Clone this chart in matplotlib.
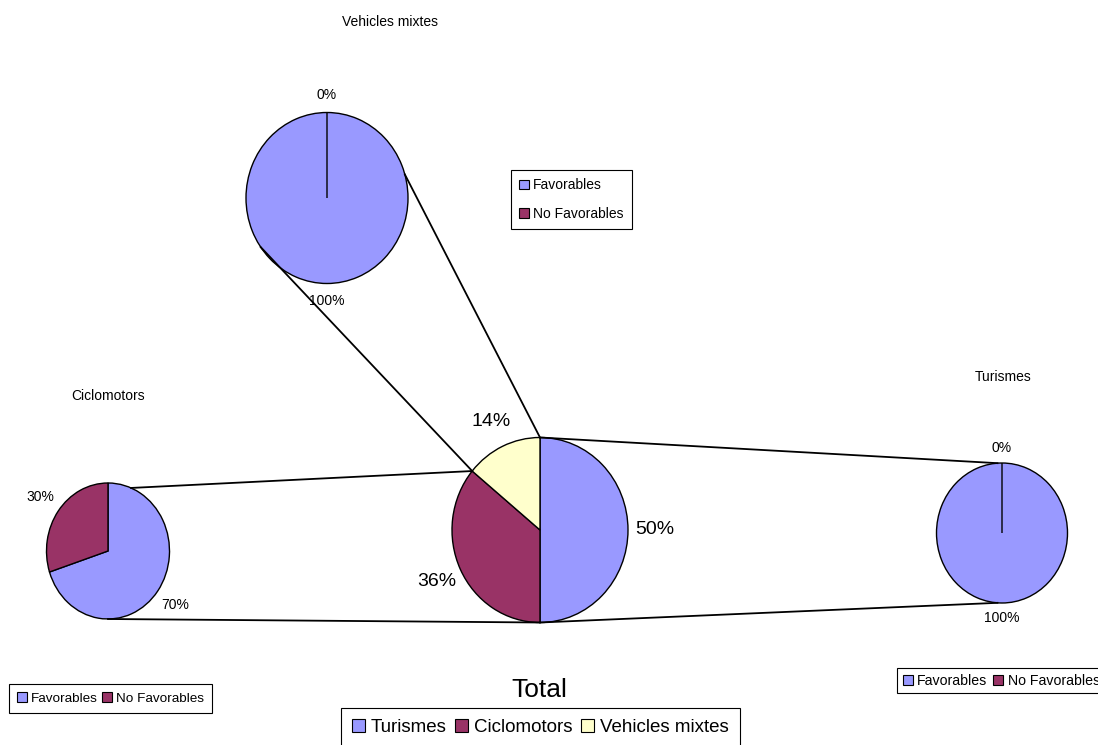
import numpy as np
import matplotlib
matplotlib.use("Agg")
import matplotlib.pyplot as plt
from matplotlib.patches import Patch

plt.rcParams['font.family'] = ['Liberation Sans', 'DejaVu Sans']

# data
total_labels = ["Turismes", "Ciclomotors", "Vehicles mixtes"]
total_values = [50, 36, 14]
sub_labels = ["Favorables", "No Favorables"]
ciclo_values = [70, 30]
mixtes_values = [100, 0]
turismes_values = [100, 0]

# colours (Excel default palette)
c_blue = "#9999FF"
c_plum = "#993366"
c_cream = "#FFFFCC"

W, H = 1098, 745
fig = plt.figure(figsize=(W / 100, H / 100), dpi=100)
fig.patch.set_facecolor("white")

# overlay axes in pixel coordinates for connector lines and titles (drawn on top)
over = fig.add_axes([0, 0, 1, 1], zorder=3)
over.set_xlim(0, W)
over.set_ylim(H, 0)
over.axis("off")


def pie_axes(cx, cy, rx, ry):
    ax = fig.add_axes([(cx - rx) / W, 1 - (cy + ry) / H, 2 * rx / W, 2 * ry / H], zorder=1)
    return ax


def draw_pie(geom, values, colors, pctdist, fsize):
    ax = pie_axes(*geom)
    ax.pie(values, colors=colors, startangle=90, counterclock=False,
           autopct="%1.0f%%", pctdistance=pctdist,
           wedgeprops=dict(edgecolor="black", linewidth=1.0),
           textprops=dict(fontsize=fsize, color="black"))
    ax.set_aspect("auto")
    ax.set_xlim(-1, 1)
    ax.set_ylim(-1, 1)
    ax.axis("off")
    return ax


def edge_point(geom, ang):
    # angle measured clockwise from 12 o'clock, in degrees
    cx, cy, rx, ry = geom
    a = np.radians(ang)
    return cx + rx * np.sin(a), cy - ry * np.cos(a)


# pie geometry: centre x, centre y, radius x, radius y (pixels)
g_total = (540, 530, 88, 92.5)
g_ciclo = (108, 551, 61.5, 68)
g_mixtes = (327, 198, 81, 85.5)
g_turismes = (1002, 533, 65.5, 70)

draw_pie(g_total, total_values, [c_blue, c_plum, c_cream], 1.3, 14)
draw_pie(g_ciclo, ciclo_values, [c_blue, c_plum], 1.35, 10)
draw_pie(g_mixtes, mixtes_values, [c_blue, c_plum], 1.2, 10)
draw_pie(g_turismes, turismes_values, [c_blue, c_plum], 1.21, 10)

# slice boundaries on the Total pie
cum = np.cumsum(total_values) / np.sum(total_values) * 360
t_top = edge_point(g_total, 0)
t_bottom = edge_point(g_total, cum[0])
t_split = edge_point(g_total, cum[1])

connectors = [
    (edge_point(g_mixtes, 235), t_split),
    (edge_point(g_mixtes, 74), t_top),
    (edge_point(g_ciclo, 22), t_split),
    (edge_point(g_ciclo, 180), t_bottom),
    (t_top, edge_point(g_turismes, 356)),
    (t_bottom, edge_point(g_turismes, 184)),
]
for p, q in connectors:
    over.plot([p[0], q[0]], [p[1], q[1]], color="black", linewidth=1.3)

# titles
over.text(390, 22, "Vehicles mixtes", ha="center", va="center", fontsize=10)
over.text(108, 396, "Ciclomotors", ha="center", va="center", fontsize=10)
over.text(1003, 377, "Turismes", ha="center", va="center", fontsize=10)
over.text(539, 690, "Total", ha="center", va="center", fontsize=19)


def legend(labels, colors, x, y, ncol, fsize, spacing=0.5, colsp=0.5, pad=0.4):
    handles = [Patch(facecolor=c, edgecolor="black", linewidth=0.8) for c in colors]
    lg = fig.legend(handles, labels, loc="upper left", bbox_to_anchor=(x / W, 1 - y / H),
                    ncol=ncol, fontsize=fsize, frameon=True, fancybox=False,
                    framealpha=1, edgecolor="black", borderaxespad=0,
                    handlelength=0.7, handleheight=0.7, handletextpad=0.3,
                    columnspacing=colsp, labelspacing=spacing, borderpad=pad)
    lg.get_frame().set_linewidth(0.8)
    return lg


legend(sub_labels, [c_blue, c_plum], 511, 170, 1, 10, spacing=1.05, pad=0.6)
legend(sub_labels, [c_blue, c_plum], 9, 684, 2, 9.7, colsp=0.35, pad=0.6)
legend(sub_labels, [c_blue, c_plum], 897, 668, 2, 10.2, colsp=0.45)
legend(total_labels, [c_blue, c_plum, c_cream], 341, 708, 3, 13.5, colsp=0.45, pad=0.6)

fig.savefig("out.png", dpi=100)
